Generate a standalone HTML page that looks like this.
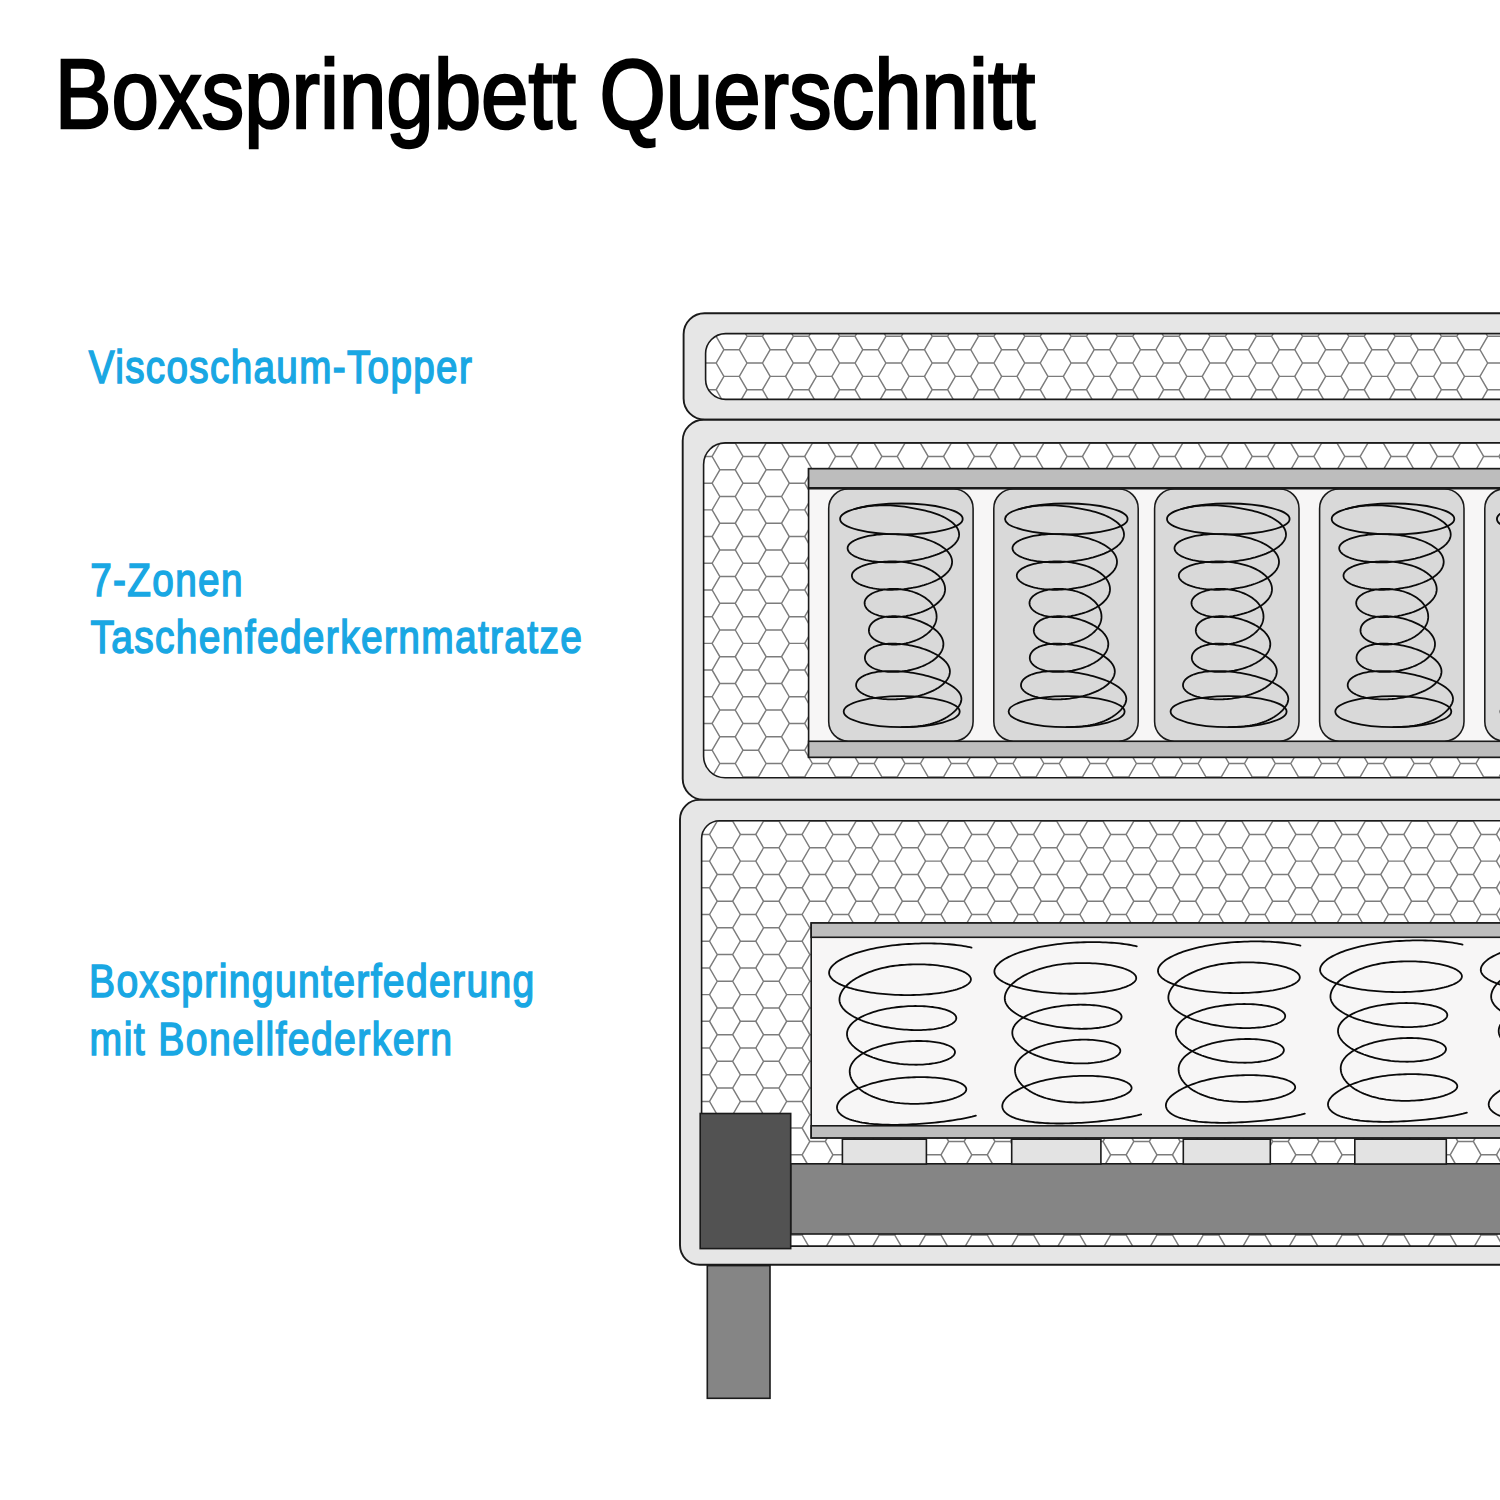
<!DOCTYPE html>
<html lang="de"><head><meta charset="utf-8"><title>Boxspringbett Querschnitt</title>
<style>
html,body{margin:0;padding:0;background:#fff;}
body{width:1500px;height:1500px;overflow:hidden;position:relative;font-family:"Liberation Sans",sans-serif;}
svg{position:absolute;left:0;top:0;display:block;}
text{font-family:"Liberation Sans",sans-serif;}
.t{fill:#000;stroke:#000;stroke-width:2.6px;stroke-linejoin:miter;font-size:98.5px;}
.l{fill:#19a7e3;stroke:#19a7e3;stroke-width:1.55px;stroke-linejoin:miter;font-size:46.2px;letter-spacing:1.6px;}
</style></head><body>
<svg width="1500" height="1500" viewBox="0 0 1500 1500">
<rect width="1500" height="1500" fill="#fff"/>
<defs>
<path id="hr" d="M0,0l7.715,-13.350h15.430l7.715,13.350h15.430l7.715,-13.350h15.430l7.715,13.350h15.430l7.715,-13.350h15.430l7.715,13.350h15.430l7.715,-13.350h15.430l7.715,13.350h15.430l7.715,-13.350h15.430l7.715,13.350h15.430l7.715,-13.350h15.430l7.715,13.350h15.430l7.715,-13.350h15.430l7.715,13.350h15.430l7.715,-13.350h15.430l7.715,13.350h15.430l7.715,-13.350h15.430l7.715,13.350h15.430l7.715,-13.350h15.430l7.715,13.350h15.430l7.715,-13.350h15.430l7.715,13.350h15.430l7.715,-13.350h15.430l7.715,13.350h15.430l7.715,-13.350h15.430l7.715,13.350h15.430l7.715,-13.350h15.430l7.715,13.350h15.430l7.715,-13.350h15.430l7.715,13.350h15.430l7.715,-13.350h15.430l7.715,13.350h15.430l7.715,-13.350h15.430l7.715,13.350h15.430l7.715,-13.350h15.430l7.715,13.350h15.430l7.715,-13.350h15.430l7.715,13.350h15.430l7.715,-13.350h15.430l7.715,13.350h15.430M0,0l7.715,13.350m15.430,0l7.715,-13.350m15.430,0l7.715,13.350m15.430,0l7.715,-13.350m15.430,0l7.715,13.350m15.430,0l7.715,-13.350m15.430,0l7.715,13.350m15.430,0l7.715,-13.350m15.430,0l7.715,13.350m15.430,0l7.715,-13.350m15.430,0l7.715,13.350m15.430,0l7.715,-13.350m15.430,0l7.715,13.350m15.430,0l7.715,-13.350m15.430,0l7.715,13.350m15.430,0l7.715,-13.350m15.430,0l7.715,13.350m15.430,0l7.715,-13.350m15.430,0l7.715,13.350m15.430,0l7.715,-13.350m15.430,0l7.715,13.350m15.430,0l7.715,-13.350m15.430,0l7.715,13.350m15.430,0l7.715,-13.350m15.430,0l7.715,13.350m15.430,0l7.715,-13.350m15.430,0l7.715,13.350m15.430,0l7.715,-13.350m15.430,0l7.715,13.350m15.430,0l7.715,-13.350m15.430,0l7.715,13.350m15.430,0l7.715,-13.350m15.430,0l7.715,13.350m15.430,0l7.715,-13.350m15.430,0l7.715,13.350m15.430,0l7.715,-13.350m15.430,0l7.715,13.350m15.430,0l7.715,-13.350m15.430,0l7.715,13.350m15.430,0l7.715,-13.350m15.430,0"/>
<clipPath id="cT"><rect x="705.6" y="333.6" width="900" height="65.8" rx="20"/></clipPath>
<clipPath id="cM"><rect x="703.6" y="442.9" width="900" height="334.9" rx="21.5"/></clipPath>
<clipPath id="cB"><rect x="701.6" y="820.7" width="900" height="425.4" rx="18"/></clipPath>
<g id="ps" fill="none" stroke="#0a0a0a" stroke-width="1.8" stroke-linejoin="round" stroke-linecap="round"><path d="M-47.23,20.68L-45.37,20.15L-43.4,19.65L-41.34,19.18L-39.19,18.76L-36.95,18.37L-34.63,18.02L-32.23,17.71L-29.76,17.46L-27.23,17.24L-24.63,17.08L-21.99,16.97L-19.3,16.91L-16.57,16.9L-13.82,16.94L-11.04,17.05L-8.25,17.2L-5.46,17.41L-2.66,17.67L0.13,17.97L2.9,18.33L5.65,18.72L8.38,19.16L11.08,19.63L13.74,20.13L16.37,20.65L18.95,21.19L21.49,21.74L23.97,22.31L26.4,22.93L28.77,23.58L31.07,24.27L33.3,24.99L35.46,25.76L37.53,26.55L39.52,27.39L41.42,28.25L43.23,29.15L44.95,30.07L46.56,31.03L48.08,32.01L49.5,33.01L50.8,34.04L52.01,35.09L53.1,36.16L54.07,37.24L54.94,38.34L55.69,39.46L56.32,40.59L56.83,41.72L57.23,42.87L57.5,44.02L57.66,45.17L57.7,46.33L57.61,47.48L57.39,48.64L57.04,49.79L56.57,50.93L55.97,52.06L55.25,53.18L54.41,54.29L53.45,55.39L52.36,56.47L51.17,57.53L49.86,58.57L48.44,59.59L46.92,60.58L45.3,61.55L43.58,62.5L41.77,63.41L39.87,64.29L37.88,65.15L35.82,65.97L33.69,66.75L31.48,67.5L29.21,68.21L26.89,68.89L24.51,69.52L22.08,70.12L19.62,70.67L17.11,71.18L14.58,71.65L12.03,72.08L9.46,72.47L6.87,72.81L4.28,73.11L1.68,73.36L-0.9,73.57L-3.48,73.73L-6.04,73.85L-8.58,73.93L-11.1,73.96L-13.58,73.95L-16.03,73.9L-18.43,73.8L-20.79,73.67L-23.09,73.49L-25.34,73.27L-27.53,73.01L-29.66,72.72L-31.71,72.38L-33.7,72.01L-35.61,71.61L-37.43,71.17L-39.18,70.7L-40.84,70.2L-42.41,69.67L-43.88,69.12L-45.27,68.53L-46.55,67.93L-47.74,67.3L-48.83,66.65L-49.81,65.98L-50.69,65.29L-51.46,64.59L-52.12,63.87L-52.67,63.15L-53.12,62.41L-53.45,61.67L-53.67,60.92L-53.79,60.17L-53.79,59.42L-53.67,58.67L-53.43,57.93L-53.07,57.18L-52.6,56.45L-52.01,55.72L-51.3,55.01L-50.49,54.31L-49.56,53.62L-48.52,52.95L-47.38,52.3L-46.13,51.67L-44.78,51.07L-43.34,50.48L-41.81,49.93L-40.18,49.4L-38.47,48.9L-36.68,48.43L-34.81,47.99L-32.86,47.59L-30.85,47.22L-28.78,46.88L-26.65,46.59L-24.47,46.33L-22.23,46.11L-19.96,45.93L-17.64,45.8L-15.3,45.7L-12.92,45.65L-10.53,45.64L-8.12,45.67L-5.7,45.75L-3.27,45.87L-0.84,46.03L1.58,46.24L4,46.5L6.39,46.79L8.77,47.13L11.13,47.52L13.45,47.95L15.74,48.42L17.98,48.93L20.19,49.49L22.34,50.08L24.44,50.72L26.49,51.39L28.47,52.1L30.39,52.85L32.24,53.64L34.02,54.46L35.72,55.31L37.35,56.19L38.89,57.11L40.35,58.05L41.72,59.02L43,60.01L44.19,61.03L45.28,62.07L46.28,63.13L47.18,64.21L47.98,65.31L48.68,66.42L49.28,67.54L49.77,68.68L50.16,69.82L50.45,70.97L50.62,72.12L50.7,73.28L50.66,74.43L50.52,75.59L50.27,76.74L49.9,77.88L49.43,79.02L48.85,80.14L48.16,81.26L47.37,82.36L46.48,83.45L45.49,84.52L44.39,85.57L43.2,86.59L41.92,87.6L40.55,88.58L39.09,89.53L37.55,90.46L35.92,91.35L34.22,92.22L32.45,93.05L30.61,93.85L28.7,94.61L26.73,95.34L24.71,96.03L22.63,96.68L20.51,97.29L18.35,97.86L16.15,98.39L13.91,98.87L11.65,99.32L9.36,99.72L7.06,100.08L4.75,100.39L2.42,100.67L0.1,100.89L-2.23,101.07L-4.54,101.21L-6.84,101.31L-9.13,101.36L-11.39,101.36L-13.63,101.33L-15.84,101.25L-18.01,101.12L-20.13,100.96L-22.22,100.76L-24.25,100.52L-26.23,100.24L-28.15,99.92L-30.01,99.56L-31.81,99.17L-33.53,98.75L-35.18,98.29L-36.76,97.8L-38.25,97.28L-39.66,96.74L-40.99,96.16L-42.23,95.57L-43.38,94.95L-44.43,94.3L-45.39,93.64L-46.26,92.96L-47.02,92.27L-47.68,91.56L-48.25,90.83L-48.71,90.1L-49.06,89.36L-49.31,88.62L-49.46,87.87L-49.5,87.12L-49.43,86.37L-49.25,85.62L-48.96,84.87L-48.55,84.14L-48.04,83.41L-47.41,82.69L-46.68,81.98L-45.85,81.29L-44.91,80.61L-43.87,79.95L-42.74,79.32L-41.51,78.7L-40.19,78.11L-38.79,77.54L-37.3,77L-35.73,76.49L-34.09,76.01L-32.38,75.56L-30.6,75.14L-28.76,74.76L-26.87,74.41L-24.93,74.1L-22.94,73.83L-20.9,73.59L-18.83,73.4L-16.73,73.24L-14.61,73.13L-12.46,73.06L-10.3,73.04L-8.13,73.05L-5.95,73.11L-3.77,73.22L-1.6,73.36L0.57,73.55L2.72,73.79L4.85,74.07L6.96,74.4L9.05,74.76L11.1,75.17L13.11,75.63L15.09,76.13L17.03,76.66L18.92,77.24L20.75,77.86L22.54,78.52L24.27,79.22L25.94,79.95L27.54,80.73L29.09,81.53L30.56,82.37L31.97,83.24L33.3,84.14L34.56,85.08L35.75,86.04L36.86,87.02L37.89,88.03L38.83,89.06L39.7,90.12L40.49,91.19L41.19,92.28L41.8,93.38L42.33,94.5L42.78,95.63L43.14,96.77L43.41,97.92L43.59,99.07L43.68,100.22L43.69,101.38L43.6,102.53L43.4,103.69L43.11,104.83L42.72,105.97L42.22,107.1L41.63,108.23L40.95,109.33L40.17,110.42L39.3,111.5L38.35,112.56L37.3,113.59L36.18,114.61L34.98,115.6L33.7,116.56L32.35,117.5L30.93,118.41L29.45,119.28L27.91,120.13L26.32,120.94L24.67,121.72L22.98,122.46L21.25,123.16L19.48,123.83L17.68,124.45L15.86,125.04L14.01,125.58L12.14,126.09L10.26,126.55L8.37,126.97L6.47,127.34L4.58,127.68L2.69,127.96L0.81,128.21L-1.06,128.41L-2.9,128.56L-4.73,128.67L-6.54,128.74L-8.31,128.76L-10.06,128.74L-11.77,128.68L-13.44,128.58L-15.07,128.43L-16.65,128.24L-18.19,128.02L-19.68,127.75L-21.12,127.45L-22.5,127.11L-23.83,126.73L-25.1,126.32L-26.32,125.87L-27.47,125.4L-28.56,124.89L-29.58,124.35L-30.55,123.79L-31.44,123.2L-32.27,122.59L-33.03,121.96L-33.72,121.3L-34.35,120.63L-34.9,119.94L-35.39,119.23L-35.8,118.52L-36.14,117.79L-36.41,117.05L-36.61,116.31L-36.74,115.56L-36.8,114.81L-36.78,114.06L-36.68,113.31L-36.5,112.56L-36.24,111.82L-35.9,111.09L-35.48,110.37L-34.99,109.66L-34.42,108.96L-33.77,108.27L-33.05,107.61L-32.26,106.96L-31.39,106.34L-30.46,105.74L-29.46,105.16L-28.4,104.61L-27.28,104.09L-26.11,103.59L-24.87,103.13L-23.58,102.7L-22.25,102.3L-20.86,101.94L-19.44,101.62L-17.97,101.33L-16.47,101.08L-14.94,100.87L-13.37,100.7L-11.78,100.57L-10.17,100.49L-8.53,100.44L-6.89,100.44L-5.23,100.48L-3.56,100.57L-1.89,100.7L-0.22,100.87L1.45,101.09L3.12,101.36L4.77,101.66L6.41,102.01L8.03,102.41L9.63,102.85L11.21,103.33L12.76,103.85L14.28,104.41L15.76,105.02L17.21,105.66L18.62,106.34L19.99,107.06L21.32,107.82L22.59,108.61L23.82,109.44L24.99,110.3L26.11,111.19L27.18,112.11L28.18,113.06L29.12,114.03L30,115.03L30.82,116.06L31.57,117.1L32.25,118.17L32.87,119.25L33.41,120.35L33.88,121.46L34.29,122.59L34.62,123.72L34.87,124.87L35.06,126.02L35.16,127.17L35.2,128.33L35.16,129.48L35.04,130.64L34.84,131.78L34.57,132.93L34.21,134.06L33.78,135.19L33.28,136.3L32.7,137.4L32.05,138.48L31.33,139.55L30.54,140.59L29.69,141.61L28.77,142.61L27.79,143.59L26.75,144.53L25.65,145.45L24.49,146.34L23.29,147.2L22.04,148.02L20.74,148.82L19.4,149.57L18.03,150.29L16.61,150.97L15.17,151.61L13.69,152.21L12.19,152.78L10.67,153.3L9.14,153.77L7.58,154.21L6.02,154.6L4.45,154.95L2.87,155.26L1.3,155.52L-0.27,155.73L-1.84,155.91L-3.4,156.04L-4.94,156.12L-6.47,156.16L-7.97,156.16L-9.46,156.11L-10.92,156.02L-12.35,155.89L-13.75,155.72L-15.12,155.51L-16.45,155.26L-17.74,154.97L-18.99,154.64L-20.19,154.28L-21.35,153.88L-22.46,153.45L-23.52,152.99L-24.53,152.49L-25.49,151.97L-26.39,151.42L-27.23,150.84L-28.01,150.23L-28.74,149.61L-29.4,148.96L-30,148.29L-30.54,147.61L-31.02,146.91L-31.43,146.2L-31.77,145.48L-32.05,144.74L-32.26,144L-32.41,143.26L-32.48,142.51L-32.5,141.75L-32.45,141L-32.34,140.26L-32.17,139.51L-31.94,138.78L-31.65,138.05L-31.3,137.33L-30.9,136.63L-30.43,135.94L-29.9,135.27L-29.31,134.61L-28.67,133.98L-27.96,133.37L-27.2,132.78L-26.37,132.22L-25.49,131.69L-24.55,131.18L-23.56,130.71L-22.5,130.26L-21.4,129.85L-20.23,129.48L-19.02,129.14L-17.75,128.84L-16.43,128.57L-15.06,128.35L-13.64,128.16L-12.18,128.02L-10.68,127.91L-9.14,127.85L-7.55,127.84L-5.93,127.86L-4.28,127.93L-2.6,128.04L-0.9,128.2L0.83,128.4L2.58,128.65L4.34,128.94L6.11,129.27L7.89,129.65L9.67,130.07L11.45,130.53L13.22,131.04L14.98,131.59L16.72,132.17L18.45,132.8L20.14,133.47L21.81,134.18L23.44,134.92L25.03,135.7L26.57,136.51L28.07,137.36L29.51,138.24L30.89,139.14L32.2,140.08L33.45,141.05L34.63,142.04L35.73,143.05L36.75,144.09L37.69,145.15L38.54,146.22L39.31,147.32L39.98,148.43L40.56,149.55L41.04,150.68L41.43,151.82L41.72,152.97L41.91,154.12L41.99,155.27L41.98,156.43L41.87,157.58L41.67,158.74L41.37,159.88L40.97,161.02L40.48,162.15L39.9,163.27L39.23,164.37L38.48,165.46L37.63,166.53L36.7,167.58L35.69,168.62L34.61,169.62L33.44,170.61L32.21,171.57L30.91,172.5L29.54,173.4L28.11,174.27L26.63,175.11L25.09,175.91L23.5,176.68L21.87,177.41L20.2,178.11L18.49,178.77L16.75,179.38L14.99,179.96L13.2,180.5L11.39,180.99L9.57,181.44L7.74,181.85L5.9,182.22L4.06,182.54L2.22,182.82L0.4,183.06L-1.42,183.24L-3.23,183.39L-5.01,183.49L-6.77,183.55L-8.51,183.56L-10.21,183.53L-11.89,183.46L-13.53,183.35L-15.13,183.19L-16.69,183L-18.2,182.76L-19.67,182.49L-21.08,182.18L-22.45,181.83L-23.76,181.44L-25.02,181.02L-26.21,180.57L-27.35,180.09L-28.43,179.58L-29.45,179.03L-30.4,178.47L-31.28,177.87L-32.1,177.26L-32.85,176.62L-33.54,175.96L-34.15,175.28L-34.69,174.59L-35.17,173.88L-35.57,173.16L-35.9,172.43L-36.16,171.69L-36.35,170.95L-36.46,170.2L-36.5,169.45L-36.47,168.7L-36.38,167.95L-36.22,167.2L-35.99,166.46L-35.7,165.73L-35.34,165.01L-34.92,164.3L-34.43,163.61L-33.87,162.93L-33.25,162.27L-32.56,161.63L-31.81,161.01L-30.98,160.41L-30.1,159.84L-29.14,159.29L-28.12,158.78L-27.04,158.29L-25.89,157.83L-24.68,157.41L-23.4,157.02L-22.06,156.67L-20.66,156.35L-19.2,156.07L-17.69,155.83L-16.11,155.63L-14.48,155.47L-12.8,155.35L-11.08,155.27L-9.3,155.24L-7.48,155.25L-5.62,155.3L-3.72,155.39L-1.79,155.53L0.17,155.72L2.16,155.95L4.17,156.22L6.19,156.54L8.23,156.9L10.27,157.3L12.31,157.75L14.35,158.24L16.39,158.77L18.4,159.34L20.4,159.95L22.37,160.6L24.31,161.3L26.21,162.02L28.07,162.79L29.88,163.59L31.63,164.42L33.32,165.29L34.95,166.18L36.51,167.11L37.99,168.07L39.39,169.05L40.71,170.05L41.93,171.08L43.06,172.13L44.1,173.2L45.03,174.29L45.85,175.39L46.57,176.51L47.18,177.63L47.67,178.77L48.05,179.92L48.32,181.07L48.47,182.22L48.5,183.38L48.42,184.53L48.23,185.69L47.94,186.83L47.53,187.97L47.03,189.11L46.42,190.23L45.7,191.34L44.89,192.44L43.98,193.51L42.97,194.57L41.87,195.61L40.67,196.63L39.39,197.63L38.02,198.59L36.58,199.54L35.05,200.45L33.45,201.33L31.78,202.18L30.04,203L28.25,203.78L26.39,204.53L24.48,205.24L22.53,205.91L20.52,206.55L18.48,207.14L16.41,207.69L14.3,208.2L12.18,208.67L10.03,209.1L7.86,209.48L5.69,209.82L3.51,210.12L1.33,210.37L-0.85,210.58L-3.02,210.74L-5.17,210.86L-7.31,210.93L-9.43,210.96L-11.51,210.95L-13.57,210.9L-15.59,210.8L-17.58,210.66L-19.51,210.48L-21.41,210.26L-23.25,210L-25.03,209.7L-26.76,209.37L-28.43,209L-30.04,208.59L-31.57,208.15L-33.04,207.68L-34.43,207.18L-35.75,206.65L-37,206.09L-38.16,205.51L-39.24,204.9L-40.23,204.27L-41.14,203.62L-41.97,202.95L-42.7,202.26L-43.35,201.56L-43.9,200.84L-44.37,200.12L-44.74,199.38L-45.02,198.64L-45.2,197.89L-45.29,197.14L-45.29,196.39L-45.2,195.64L-45.04,194.89L-44.79,194.15L-44.46,193.42L-44.04,192.69L-43.55,191.98L-42.97,191.28L-42.31,190.59L-41.57,189.92L-40.75,189.28L-39.84,188.65L-38.85,188.04L-37.78,187.46L-36.63,186.9L-35.39,186.37L-34.08,185.88L-32.68,185.41L-31.2,184.97L-29.65,184.57L-28.02,184.2L-26.31,183.87L-24.53,183.58L-22.67,183.32L-20.75,183.1L-18.75,182.93L-16.69,182.79L-14.57,182.7L-12.39,182.65L-10.16,182.64L-7.87,182.67L-5.54,182.75L-3.16,182.87L-0.74,183.04L1.71,183.25L4.18,183.51L6.68,183.81L9.2,184.15L11.73,184.54L14.26,184.97L16.79,185.44L19.3,185.95L21.81,186.51L24.29,187.11L26.74,187.74L29.16,188.42L31.53,189.13L33.85,189.88L36.11,190.67L38.3,191.49L40.43,192.34L42.48,193.23L44.44,194.15L46.31,195.09L48.08,196.06L49.75,197.06L51.31,198.08L52.75,199.12L54.07,200.18L55.27,201.26L56.35,202.36L57.29,203.47L58.09,204.59L58.76,205.72L59.28,206.87L59.66,208.02L59.9,209.17L60,210.32L59.95,211.48L59.78,212.63L59.47,213.78L59.03,214.94L58.45,216.13L57.74,217.36L56.9,218.61L55.92,219.89L54.82,221.18L53.6,222.47L52.26,223.75L50.8,225.01L49.24,226.24L47.57,227.43L45.8,228.58L43.94,229.69L42,230.74L39.97,231.72L37.86,232.65L35.68,233.51L33.43,234.3L31.13,235.02L28.76,235.66L26.35,236.24L23.88,236.76L21.37,237.2L18.83,237.58L16.25,237.9L13.64,238.16L11,238.36L8.35,238.52L5.67,238.62L2.99,238.68L0.3,238.7"/><ellipse cx="0" cy="30.5" rx="61.3" ry="15.4"/><ellipse cx="0.3" cy="223.2" rx="58" ry="15.5"/></g>
<g id="bs" fill="none" stroke="#0a0a0a" stroke-width="1.8" stroke-linejoin="round" stroke-linecap="round"><path d="M69.99,17.68L68.25,17.24L66.39,16.83L64.4,16.43L62.31,16.05L60.1,15.69L57.78,15.35L55.36,15.04L52.84,14.75L50.24,14.49L47.54,14.25L44.76,14.04L41.91,13.86L38.99,13.71L36,13.59L32.95,13.5L29.85,13.44L26.7,13.42L23.51,13.43L20.29,13.47L17.04,13.55L13.76,13.66L10.47,13.8L7.17,13.99L3.86,14.2L0.56,14.45L-2.73,14.74L-6.01,15.08L-9.27,15.45L-12.51,15.87L-15.71,16.32L-18.87,16.82L-21.98,17.35L-25.05,17.93L-28.06,18.53L-31.01,19.18L-33.9,19.86L-36.71,20.57L-39.44,21.31L-42.1,22.08L-44.66,22.88L-47.14,23.71L-49.52,24.56L-51.8,25.44L-53.98,26.34L-56.06,27.26L-58.02,28.2L-59.86,29.15L-61.59,30.12L-63.2,31.1L-64.69,32.09L-66.05,33.09L-67.29,34.09L-68.39,35.1L-69.36,36.12L-70.21,37.13L-70.91,38.14L-71.48,39.14L-71.92,40.14L-72.22,41.13L-72.38,42.11L-72.41,43.08L-72.3,44.03L-72.05,44.98L-71.67,45.92L-71.15,46.86L-70.5,47.78L-69.71,48.69L-68.8,49.59L-67.76,50.47L-66.59,51.34L-65.29,52.19L-63.88,53.02L-62.34,53.83L-60.69,54.63L-58.93,55.4L-57.05,56.14L-55.07,56.87L-52.99,57.56L-50.81,58.24L-48.54,58.88L-46.17,59.5L-43.72,60.08L-41.2,60.64L-38.59,61.17L-35.92,61.66L-33.17,62.12L-30.37,62.55L-27.52,62.95L-24.61,63.32L-21.66,63.65L-18.67,63.94L-15.65,64.2L-12.6,64.43L-9.53,64.62L-6.45,64.78L-3.36,64.91L-0.26,64.99L2.84,65.05L5.92,65.07L9,65.05L12.05,65L15.08,64.92L18.07,64.8L21.03,64.65L23.94,64.46L26.81,64.24L29.62,63.99L32.38,63.71L35.06,63.39L37.68,63.05L40.22,62.67L42.69,62.27L45.07,61.83L47.36,61.37L49.55,60.88L51.65,60.37L53.65,59.83L55.54,59.27L57.33,58.69L59,58.09L60.55,57.47L61.99,56.83L63.31,56.18L64.5,55.5L65.57,54.82L66.51,54.12L67.32,53.42L68,52.7L68.55,51.97L68.96,51.24L69.24,50.51L69.39,49.77L69.4,49.03L69.28,48.29L69.03,47.55L68.64,46.82L68.11,46.08L67.46,45.36L66.68,44.65L65.77,43.94L64.73,43.25L63.57,42.57L62.29,41.91L60.9,41.27L59.39,40.64L57.76,40.04L56.03,39.46L54.2,38.9L52.26,38.37L50.23,37.86L48.11,37.39L45.9,36.94L43.61,36.52L41.25,36.14L38.8,35.79L36.3,35.48L33.72,35.2L31.1,34.96L28.42,34.76L25.69,34.59L22.92,34.47L20.12,34.39L17.29,34.35L14.43,34.35L11.56,34.39L8.67,34.48L5.78,34.61L2.88,34.78L-0.01,35L-2.89,35.27L-5.75,35.61L-8.6,36.01L-11.42,36.48L-14.2,37L-16.95,37.58L-19.66,38.21L-22.32,38.9L-24.92,39.65L-27.47,40.44L-29.96,41.28L-32.38,42.16L-34.73,43.09L-37.01,44.06L-39.21,45.07L-41.32,46.12L-43.35,47.2L-45.29,48.31L-47.13,49.45L-48.88,50.62L-50.53,51.81L-52.08,53.02L-53.52,54.25L-54.86,55.5L-56.08,56.76L-57.2,58.02L-58.2,59.3L-59.09,60.57L-59.86,61.85L-60.52,63.13L-61.06,64.4L-61.48,65.66L-61.79,66.91L-61.97,68.14L-62.04,69.36L-62,70.55L-61.83,71.74L-61.54,72.91L-61.13,74.07L-60.61,75.22L-59.97,76.36L-59.22,77.48L-58.35,78.59L-57.38,79.68L-56.29,80.76L-55.1,81.81L-53.81,82.85L-52.42,83.86L-50.94,84.85L-49.36,85.81L-47.7,86.75L-45.95,87.66L-44.12,88.55L-42.21,89.41L-40.22,90.24L-38.17,91.04L-36.06,91.81L-33.89,92.54L-31.66,93.25L-29.37,93.92L-27.05,94.56L-24.68,95.17L-22.27,95.74L-19.84,96.28L-17.37,96.78L-14.89,97.25L-12.38,97.68L-9.87,98.08L-7.34,98.44L-4.82,98.77L-2.29,99.06L0.23,99.32L2.73,99.54L5.22,99.72L7.69,99.87L10.14,99.98L12.56,100.04L14.94,100.08L17.29,100.07L19.59,100.03L21.85,99.95L24.06,99.84L26.22,99.69L28.32,99.51L30.36,99.29L32.34,99.05L34.25,98.77L36.09,98.46L37.85,98.12L39.54,97.76L41.16,97.36L42.69,96.95L44.14,96.5L45.5,96.04L46.78,95.55L47.97,95.04L49.06,94.52L50.07,93.97L50.98,93.41L51.79,92.84L52.51,92.25L53.14,91.65L53.66,91.04L54.09,90.43L54.41,89.81L54.64,89.18L54.77,88.55L54.8,87.92L54.72,87.29L54.55,86.66L54.26,86.03L53.88,85.42L53.39,84.81L52.8,84.21L52.11,83.62L51.32,83.04L50.44,82.48L49.46,81.93L48.38,81.4L47.21,80.88L45.96,80.39L44.61,79.91L43.18,79.46L41.67,79.03L40.08,78.63L38.41,78.25L36.67,77.89L34.86,77.57L32.99,77.27L31.05,77L29.05,76.77L27,76.56L24.9,76.39L22.75,76.25L20.55,76.14L18.32,76.07L16.05,76.03L13.76,76.02L11.43,76.05L9.09,76.12L6.72,76.22L4.35,76.36L1.97,76.53L-0.42,76.74L-2.81,76.98L-5.19,77.26L-7.55,77.58L-9.91,77.92L-12.25,78.31L-14.56,78.72L-16.84,79.18L-19.09,79.66L-21.31,80.18L-23.48,80.74L-25.61,81.32L-27.69,81.94L-29.72,82.59L-31.69,83.28L-33.6,83.99L-35.45,84.73L-37.22,85.51L-38.93,86.31L-40.56,87.13L-42.11,87.99L-43.59,88.86L-44.98,89.77L-46.28,90.69L-47.49,91.64L-48.62,92.61L-49.65,93.6L-50.58,94.6L-51.42,95.62L-52.16,96.66L-52.8,97.71L-53.34,98.78L-53.78,99.85L-54.12,100.94L-54.35,102.03L-54.47,103.14L-54.5,104.24L-54.41,105.36L-54.23,106.47L-53.94,107.59L-53.55,108.71L-53.05,109.83L-52.46,110.94L-51.76,112.05L-50.97,113.15L-50.07,114.24L-49.09,115.31L-48,116.38L-46.83,117.43L-45.57,118.46L-44.22,119.47L-42.79,120.47L-41.27,121.44L-39.68,122.38L-38.01,123.31L-36.28,124.2L-34.47,125.07L-32.59,125.9L-30.66,126.71L-28.67,127.48L-26.62,128.22L-24.52,128.92L-22.38,129.59L-20.2,130.22L-17.98,130.81L-15.72,131.36L-13.44,131.87L-11.13,132.34L-8.8,132.77L-6.46,133.16L-4.1,133.5L-1.74,133.81L0.62,134.06L2.98,134.28L5.33,134.45L7.68,134.58L10,134.67L12.31,134.72L14.59,134.73L16.84,134.7L19.06,134.63L21.24,134.53L23.38,134.38L25.47,134.2L27.52,133.99L29.51,133.74L31.44,133.46L33.31,133.15L35.11,132.8L36.85,132.43L38.52,132.03L40.11,131.6L41.62,131.14L43.06,130.67L44.41,130.17L45.67,129.65L46.85,129.11L47.93,128.55L48.93,127.98L49.83,127.4L50.63,126.8L51.34,126.19L51.95,125.58L52.46,124.95L52.87,124.33L53.18,123.7L53.38,123.07L53.49,122.44L53.49,121.81L53.39,121.19L53.19,120.57L52.88,119.96L52.47,119.36L51.97,118.77L51.36,118.19L50.65,117.63L49.85,117.07L48.95,116.54L47.96,116.02L46.88,115.52L45.71,115.04L44.46,114.59L43.12,114.15L41.69,113.74L40.19,113.35L38.62,112.99L36.97,112.66L35.25,112.35L33.47,112.07L31.63,111.83L29.72,111.61L27.77,111.42L25.76,111.27L23.7,111.15L21.61,111.06L19.47,111.01L17.3,110.99L15.1,111L12.87,111.05L10.62,111.14L8.36,111.26L6.08,111.41L3.79,111.61L1.49,111.83L-0.8,112.1L-3.09,112.39L-5.37,112.73L-7.64,113.1L-9.89,113.5L-12.12,113.94L-14.32,114.42L-16.49,114.93L-18.64,115.47L-20.74,116.05L-22.8,116.67L-24.82,117.31L-26.78,117.99L-28.7,118.71L-30.55,119.45L-32.35,120.22L-34.09,121.03L-35.76,121.86L-37.36,122.73L-38.89,123.61L-40.34,124.53L-41.72,125.47L-43.02,126.44L-44.23,127.42L-45.36,128.43L-46.41,129.46L-47.36,130.51L-48.23,131.58L-49,132.66L-49.69,133.76L-50.27,134.87L-50.77,136L-51.17,137.13L-51.47,138.28L-51.67,139.43L-51.78,140.59L-51.79,141.76L-51.72,142.93L-51.56,144.11L-51.32,145.3L-50.99,146.49L-50.57,147.68L-50.07,148.87L-49.49,150.05L-48.82,151.23L-48.06,152.4L-47.21,153.55L-46.29,154.7L-45.27,155.83L-44.17,156.94L-42.99,158.03L-41.72,159.1L-40.37,160.15L-38.94,161.17L-37.43,162.16L-35.84,163.12L-34.17,164.05L-32.42,164.95L-30.6,165.81L-28.71,166.64L-26.75,167.43L-24.72,168.17L-22.63,168.88L-20.48,169.55L-18.26,170.16L-15.99,170.74L-13.67,171.27L-11.31,171.75L-8.89,172.18L-6.44,172.56L-3.95,172.89L-1.43,173.17L1.11,173.39L3.68,173.57L6.26,173.71L8.86,173.8L11.46,173.84L14.06,173.84L16.65,173.8L19.24,173.72L21.81,173.59L24.36,173.43L26.88,173.23L29.36,172.98L31.81,172.71L34.21,172.39L36.56,172.04L38.85,171.66L41.08,171.25L43.24,170.81L45.33,170.34L47.33,169.84L49.25,169.31L51.08,168.77L52.82,168.2L54.45,167.61L55.98,167L57.4,166.38L58.7,165.74L59.89,165.09L60.96,164.42L61.9,163.75L62.71,163.07L63.4,162.39L63.95,161.71L64.36,161.02L64.64,160.34L64.78,159.65L64.79,158.98L64.66,158.31L64.42,157.64L64.05,156.99L63.56,156.34L62.95,155.7L62.22,155.08L61.36,154.47L60.4,153.88L59.31,153.3L58.11,152.75L56.8,152.21L55.39,151.69L53.86,151.19L52.24,150.72L50.51,150.27L48.69,149.85L46.78,149.46L44.77,149.09L42.69,148.75L40.52,148.45L38.27,148.17L35.95,147.92L33.56,147.71L31.11,147.53L28.6,147.39L26.03,147.27L23.42,147.2L20.76,147.16L18.06,147.15L15.33,147.18L12.57,147.25L9.79,147.35L6.99,147.49L4.17,147.67L1.35,147.88L-1.47,148.14L-4.29,148.44L-7.11,148.79L-9.9,149.19L-12.68,149.64L-15.44,150.13L-18.16,150.67L-20.85,151.25L-23.5,151.87L-26.1,152.54L-28.65,153.24L-31.15,153.98L-33.59,154.75L-35.96,155.55L-38.27,156.39L-40.5,157.25L-42.65,158.14L-44.72,159.06L-46.71,159.99L-48.61,160.94L-50.41,161.92L-52.12,162.9L-53.73,163.9L-55.23,164.91L-56.64,165.92L-57.93,166.94L-59.11,167.96L-60.18,168.98L-61.14,170L-61.97,171.02L-62.7,172.03L-63.3,173.03L-63.78,174.02L-64.14,174.99L-64.37,175.95L-64.49,176.9L-64.48,177.82L-64.36,178.74L-64.13,179.64L-63.79,180.54L-63.34,181.42L-62.78,182.28L-62.1,183.13L-61.32,183.95L-60.43,184.75L-59.42,185.53L-58.31,186.28L-57.1,187.01L-55.78,187.7L-54.35,188.37L-52.82,189L-51.19,189.61L-49.46,190.18L-47.63,190.72L-45.71,191.23L-43.69,191.7L-41.59,192.14L-39.39,192.55L-37.11,192.92L-34.75,193.25L-32.3,193.56L-29.78,193.82L-27.19,194.06L-24.53,194.26L-21.8,194.43L-19.01,194.57L-16.16,194.67L-13.26,194.74L-10.31,194.78L-7.32,194.79L-4.28,194.78L-1.21,194.73L1.89,194.65L5.01,194.55L8.16,194.42L11.31,194.27L14.48,194.09L17.65,193.89L20.82,193.66L23.98,193.42L27.12,193.15L30.24,192.86L33.34,192.55L36.41,192.23L39.43,191.88L42.41,191.52L45.34,191.14L48.22,190.74L51.03,190.33L53.77,189.91L56.44,189.47L59.02,189.02L61.52,188.56L63.92,188.09L66.23,187.6L68.43,187.11L70.52,186.62L72.49,186.11L74.35,185.6"/></g>
</defs>
<rect x="683.6" y="313.2" width="916.4" height="106.4" rx="21" fill="#e6e6e6" stroke="#1a1a1a" stroke-width="1.9"/>
<rect x="705.6" y="333.6" width="894.4" height="65.8" rx="20" fill="#fff" stroke="#1a1a1a" stroke-width="0"/>
<g clip-path="url(#cT)" fill="none" stroke="#7c7c7c" stroke-width="1.45"><use href="#hr" x="669.88" y="309.6"/><use href="#hr" x="669.88" y="336.3"/><use href="#hr" x="669.88" y="363"/><use href="#hr" x="669.88" y="389.7"/><use href="#hr" x="669.88" y="416.4"/></g>
<rect x="705.6" y="333.6" width="894.4" height="65.8" rx="20" fill="none" stroke="#1a1a1a" stroke-width="1.6"/>
<rect x="682.7" y="419.7" width="917.3" height="380.1" rx="21" fill="#e6e6e6" stroke="#1a1a1a" stroke-width="1.9"/>
<rect x="703.6" y="442.9" width="896.4" height="334.9" rx="21.5" fill="#fff" stroke="#1a1a1a" stroke-width="0"/>
<g clip-path="url(#cM)" fill="none" stroke="#7c7c7c" stroke-width="1.45"><use href="#hr" x="688.98" y="416.4"/><use href="#hr" x="688.98" y="443.1"/><use href="#hr" x="688.98" y="469.8"/><use href="#hr" x="688.98" y="496.5"/><use href="#hr" x="688.98" y="523.2"/><use href="#hr" x="688.98" y="549.9"/><use href="#hr" x="688.98" y="576.6"/><use href="#hr" x="688.98" y="603.3"/><use href="#hr" x="688.98" y="630"/><use href="#hr" x="688.98" y="656.7"/><use href="#hr" x="688.98" y="683.4"/><use href="#hr" x="688.98" y="710.1"/><use href="#hr" x="688.98" y="736.8"/><use href="#hr" x="688.98" y="763.5"/><use href="#hr" x="688.98" y="790.2"/><use href="#hr" x="688.98" y="816.9"/></g>
<rect x="703.6" y="442.9" width="896.4" height="334.9" rx="21.5" fill="none" stroke="#1a1a1a" stroke-width="1.6"/>
<rect x="808.6" y="468.7" width="791.4" height="288.6" fill="#f7f6f6" stroke="#1a1a1a" stroke-width="1.6"/>
<rect x="808.6" y="468.7" width="791.4" height="19.5" fill="#bdbdbd" stroke="#1a1a1a" stroke-width="1.6"/>
<rect x="808.6" y="741.3" width="791.4" height="16" fill="#bdbdbd" stroke="#1a1a1a" stroke-width="1.6"/>
<rect x="828.7" y="488.9" width="144.4" height="252.2" rx="19.5" fill="#d9d9d9" stroke="#1a1a1a" stroke-width="1.55"/>
<use href="#ps" x="901.4" y="488.4"/>
<rect x="993.8" y="488.9" width="144.4" height="252.2" rx="19.5" fill="#d9d9d9" stroke="#1a1a1a" stroke-width="1.55"/>
<use href="#ps" x="1066.3" y="488.4"/>
<rect x="1154.6" y="488.9" width="144.4" height="252.2" rx="19.5" fill="#d9d9d9" stroke="#1a1a1a" stroke-width="1.55"/>
<use href="#ps" x="1228.3" y="488.4"/>
<rect x="1319.6" y="488.9" width="144.4" height="252.2" rx="19.5" fill="#d9d9d9" stroke="#1a1a1a" stroke-width="1.55"/>
<use href="#ps" x="1393" y="488.4"/>
<rect x="1484.8" y="488.9" width="144.4" height="252.2" rx="19.5" fill="#d9d9d9" stroke="#1a1a1a" stroke-width="1.55"/>
<use href="#ps" x="1558.2" y="488.4"/>
<line x1="808.6" y1="488.3" x2="1600" y2="488.3" stroke="#1a1a1a" stroke-width="2.6"/>
<rect x="680" y="799.9" width="920" height="464.9" rx="19.5" fill="#e6e6e6" stroke="#1a1a1a" stroke-width="1.9"/>
<rect x="701.6" y="820.7" width="898.4" height="425.4" rx="18" fill="#fff" stroke="#1a1a1a" stroke-width="0"/>
<g clip-path="url(#cB)" fill="none" stroke="#7c7c7c" stroke-width="1.45"><use href="#hr" x="686.38" y="794.35"/><use href="#hr" x="686.38" y="821.05"/><use href="#hr" x="686.38" y="847.75"/><use href="#hr" x="686.38" y="874.45"/><use href="#hr" x="686.38" y="901.15"/><use href="#hr" x="686.38" y="927.85"/><use href="#hr" x="686.38" y="954.55"/><use href="#hr" x="686.38" y="981.25"/><use href="#hr" x="686.38" y="1007.95"/><use href="#hr" x="686.38" y="1034.65"/><use href="#hr" x="686.38" y="1061.35"/><use href="#hr" x="686.38" y="1088.05"/><use href="#hr" x="686.38" y="1114.75"/><use href="#hr" x="686.38" y="1141.45"/><use href="#hr" x="686.38" y="1168.15"/><use href="#hr" x="686.38" y="1194.85"/><use href="#hr" x="686.38" y="1221.55"/><use href="#hr" x="686.38" y="1248.25"/><use href="#hr" x="686.38" y="1274.95"/></g>
<rect x="701.6" y="820.7" width="898.4" height="425.4" rx="18" fill="none" stroke="#1a1a1a" stroke-width="1.6"/>
<rect x="811.2" y="923" width="788.8" height="214.9" fill="#f7f6f6" stroke="#1a1a1a" stroke-width="1.6"/>
<rect x="811.2" y="923" width="788.8" height="14.3" fill="#bdbdbd" stroke="#1a1a1a" stroke-width="1.6"/>
<rect x="811.2" y="1125.8" width="788.8" height="12.1" fill="#bdbdbd" stroke="#1a1a1a" stroke-width="1.6"/>
<use href="#bs" x="901.5" y="930"/>
<use href="#bs" x="1066.8" y="928.7"/>
<use href="#bs" x="1230.4" y="928"/>
<use href="#bs" x="1392.5" y="927"/>
<use href="#bs" x="1553.2" y="927"/>
<rect x="790.7" y="1163.8" width="809.3" height="70.2" fill="#858585" stroke="#1a1a1a" stroke-width="1.6"/>
<rect x="842.4" y="1139.2" width="84" height="24.8" fill="#e3e3e3" stroke="#1a1a1a" stroke-width="1.6"/>
<rect x="1011.7" y="1139.2" width="89.2" height="24.8" fill="#e3e3e3" stroke="#1a1a1a" stroke-width="1.6"/>
<rect x="1183.3" y="1139.2" width="87" height="24.8" fill="#e3e3e3" stroke="#1a1a1a" stroke-width="1.6"/>
<rect x="1354.8" y="1139.2" width="91.5" height="24.8" fill="#e3e3e3" stroke="#1a1a1a" stroke-width="1.6"/>
<rect x="707.3" y="1265.6" width="62.7" height="132.7" fill="#858585" stroke="#1a1a1a" stroke-width="1.6"/>
<rect x="700.2" y="1113.5" width="90.5" height="135.1" fill="#525252" stroke="#1a1a1a" stroke-width="1.6"/>
<text class="t" transform="translate(54.78 128.2) scale(0.8652 1)">Boxspringbett Querschnitt</text>
<text class="l" transform="translate(88.86 382.62) scale(0.8368 1)">Viscoschaum-Topper</text>
<text class="l" transform="translate(90.25 595.93) scale(0.8376 1)">7-Zonen</text>
<text class="l" transform="translate(90.5 653.23) scale(0.8421 1)">Taschenfederkernmatratze</text>
<text class="l" transform="translate(89.09 997.23) scale(0.8453 1)">Boxspringunterfederung</text>
<text class="l" transform="translate(89.61 1054.92) scale(0.8493 1)">mit Bonellfederkern</text>
</svg></body></html>
